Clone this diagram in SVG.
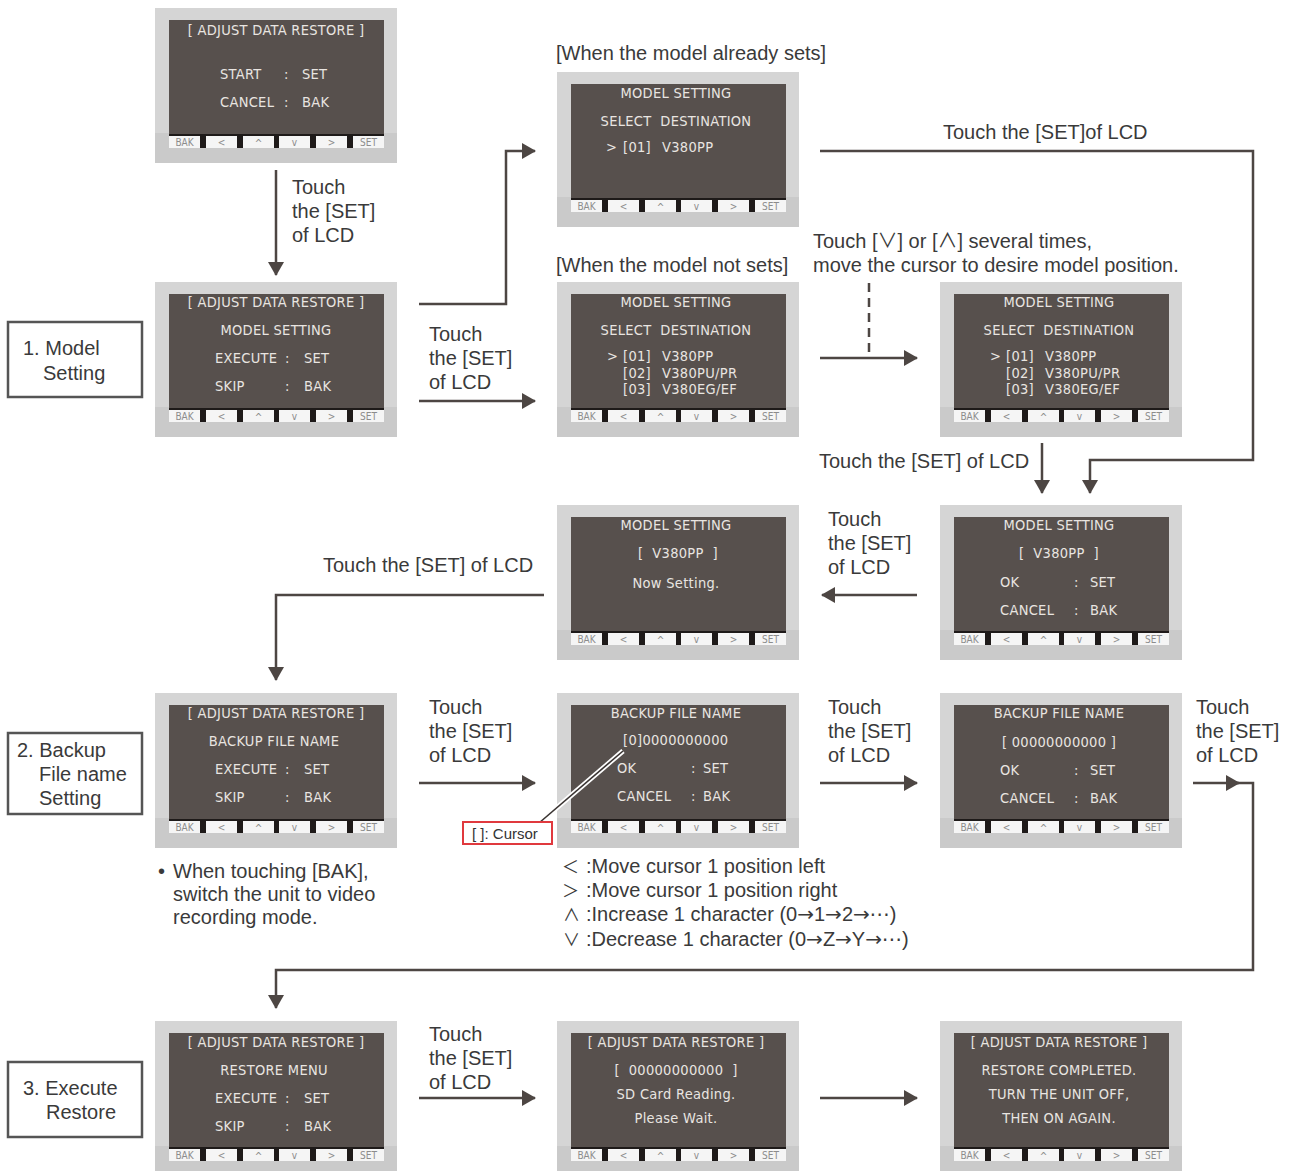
<svg xmlns="http://www.w3.org/2000/svg" width="1290" height="1171" viewBox="0 0 1290 1171">
<defs>
<style>
.frame{fill:#d5d5d5}
.lower{fill:#cacaca}
.scr{fill:#57504d}
.bar{fill:#1e1a19}
.btn{fill:#f5f5f5}
.bt{font-family:"DejaVu Sans Condensed","DejaVu Sans",sans-serif;font-size:10px;fill:#8c8c8c;text-anchor:middle}
.l{font-family:"DejaVu Sans Condensed","DejaVu Sans",sans-serif;font-size:14.5px;letter-spacing:0.3px;fill:#e9e5e1;white-space:pre}
.c{text-anchor:middle}
.t{font-family:"Liberation Sans",Arial,sans-serif;font-size:20px;fill:#3a3a3a}
.sym{font-family:"Noto Sans CJK JP","DejaVu Sans",sans-serif}
.arw{font-family:"DejaVu Sans",sans-serif}
.sm{font-size:17px}
.box{fill:#fff;stroke:#555;stroke-width:2.5}
.ar{fill:none;stroke:#4d4643;stroke-width:2.5}
</style>
<marker id="ah" viewBox="0 0 14 16" markerWidth="14" markerHeight="16" refX="13" refY="8" orient="auto" markerUnits="userSpaceOnUse">
<path d="M0,0 L14,8 L0,16 z" fill="#4d4643"/>
</marker>
<g id="lcd">
<rect class="frame" x="0" y="0" width="242" height="155"/>
<rect class="lower" x="0" y="125" width="242" height="30"/>
<rect class="scr" x="14" y="12" width="215" height="116"/>
<rect class="bar" x="14" y="126" width="215" height="14"/>
<rect class="btn" x="14" y="128" width="31" height="12"/>
<rect class="btn" x="51" y="128" width="31" height="12"/>
<rect class="btn" x="88" y="128" width="31" height="12"/>
<rect class="btn" x="124" y="128" width="31" height="12"/>
<rect class="btn" x="161" y="128" width="31" height="12"/>
<rect class="btn" x="198" y="128" width="31" height="12"/>
<text class="bt" x="29.5" y="138">BAK</text>
<text class="bt" x="66.5" y="138">&lt;</text>
<text class="bt" x="103.5" y="139">^</text>
<text class="bt" x="139.5" y="138">v</text>
<text class="bt" x="176.5" y="138">&gt;</text>
<text class="bt" x="213.5" y="138">SET</text>
</g>
</defs>
<rect x="0" y="0" width="1290" height="1171" fill="#fff"/>

<g id="label-1"><rect class="box" x="8" y="322" width="134" height="75"/><text class="t" x="23" y="355">1. Model</text><text class="t" x="43" y="380">Setting</text></g>
<g id="label-2"><rect class="box" x="8" y="733" width="134" height="81"/><text class="t" x="17" y="757">2. Backup</text><text class="t" x="39" y="781">File name</text><text class="t" x="39" y="805">Setting</text></g>
<g id="label-3"><rect class="box" x="8" y="1062" width="134" height="75"/><text class="t" x="23" y="1095">3. Execute</text><text class="t" x="46" y="1119">Restore</text></g>

<g id="lcd-a" transform="translate(155,8)"><use href="#lcd"/>
<text class="l c" x="121" y="27">[ ADJUST DATA RESTORE ]</text>
<text class="l" x="65" y="71">START</text><text class="l" x="129" y="71">:</text><text class="l" x="147" y="71">SET</text>
<text class="l" x="65" y="99">CANCEL</text><text class="l" x="129" y="99">:</text><text class="l" x="147" y="99">BAK</text></g>

<g id="lcd-b" transform="translate(155,282)"><use href="#lcd"/>
<text class="l c" x="121" y="25">[ ADJUST DATA RESTORE ]</text>
<text class="l c" x="121" y="53">MODEL SETTING</text>
<text class="l" x="60" y="81">EXECUTE</text><text class="l" x="130" y="81">:</text><text class="l" x="149" y="81">SET</text>
<text class="l" x="60" y="109">SKIP</text><text class="l" x="130" y="109">:</text><text class="l" x="149" y="109">BAK</text></g>

<g id="lcd-c" transform="translate(557,72)"><use href="#lcd"/>
<text class="l c" x="119" y="26">MODEL SETTING</text>
<text class="l c" x="119" y="54">SELECT  DESTINATION</text>
<text class="l" x="49" y="80">&gt;</text><text class="l" x="66" y="80">[01]</text><text class="l" x="105" y="80">V380PP</text></g>

<g id="lcd-d" transform="translate(557,282)"><use href="#lcd"/>
<text class="l c" x="119" y="25">MODEL SETTING</text>
<text class="l c" x="119" y="53">SELECT  DESTINATION</text>
<text class="l" x="50" y="79">&gt;</text><text class="l" x="66" y="79">[01]</text><text class="l" x="105" y="79">V380PP</text>
<text class="l" x="66" y="96">[02]</text><text class="l" x="105" y="96">V380PU/PR</text>
<text class="l" x="66" y="112">[03]</text><text class="l" x="105" y="112">V380EG/EF</text></g>

<g id="lcd-e" transform="translate(940,282)"><use href="#lcd"/>
<text class="l c" x="119" y="25">MODEL SETTING</text>
<text class="l c" x="119" y="53">SELECT  DESTINATION</text>
<text class="l" x="50" y="79">&gt;</text><text class="l" x="66" y="79">[01]</text><text class="l" x="105" y="79">V380PP</text>
<text class="l" x="66" y="96">[02]</text><text class="l" x="105" y="96">V380PU/PR</text>
<text class="l" x="66" y="112">[03]</text><text class="l" x="105" y="112">V380EG/EF</text></g>

<g id="lcd-f" transform="translate(557,505)"><use href="#lcd"/>
<text class="l c" x="119" y="25">MODEL SETTING</text>
<text class="l c" x="121" y="53">[  V380PP  ]</text>
<text class="l c" x="119" y="83">Now Setting.</text></g>

<g id="lcd-g" transform="translate(940,505)"><use href="#lcd"/>
<text class="l c" x="119" y="25">MODEL SETTING</text>
<text class="l c" x="119" y="53">[  V380PP  ]</text>
<text class="l" x="60" y="82">OK</text><text class="l" x="134" y="82">:</text><text class="l" x="150" y="82">SET</text>
<text class="l" x="60" y="110">CANCEL</text><text class="l" x="134" y="110">:</text><text class="l" x="150" y="110">BAK</text></g>

<g id="lcd-h" transform="translate(155,693)"><use href="#lcd"/>
<text class="l c" x="121" y="25">[ ADJUST DATA RESTORE ]</text>
<text class="l c" x="119" y="53">BACKUP FILE NAME</text>
<text class="l" x="60" y="81">EXECUTE</text><text class="l" x="130" y="81">:</text><text class="l" x="149" y="81">SET</text>
<text class="l" x="60" y="109">SKIP</text><text class="l" x="130" y="109">:</text><text class="l" x="149" y="109">BAK</text></g>

<g id="lcd-i" transform="translate(557,693)"><use href="#lcd"/>
<text class="l c" x="119" y="25">BACKUP FILE NAME</text>
<text class="l" x="66" y="52">[0]0000000000</text>
<text class="l" x="60" y="80">OK</text><text class="l" x="134" y="80">:</text><text class="l" x="146" y="80">SET</text>
<text class="l" x="60" y="108">CANCEL</text><text class="l" x="134" y="108">:</text><text class="l" x="146" y="108">BAK</text></g>

<g id="lcd-j" transform="translate(940,693)"><use href="#lcd"/>
<text class="l c" x="119" y="25">BACKUP FILE NAME</text>
<text class="l c" x="119" y="54">[ 00000000000 ]</text>
<text class="l" x="60" y="82">OK</text><text class="l" x="134" y="82">:</text><text class="l" x="150" y="82">SET</text>
<text class="l" x="60" y="110">CANCEL</text><text class="l" x="134" y="110">:</text><text class="l" x="150" y="110">BAK</text></g>

<g id="lcd-k" transform="translate(155,1021)"><use href="#lcd"/>
<text class="l c" x="121" y="26">[ ADJUST DATA RESTORE ]</text>
<text class="l c" x="119" y="54">RESTORE MENU</text>
<text class="l" x="60" y="82">EXECUTE</text><text class="l" x="130" y="82">:</text><text class="l" x="149" y="82">SET</text>
<text class="l" x="60" y="110">SKIP</text><text class="l" x="130" y="110">:</text><text class="l" x="149" y="110">BAK</text></g>

<g id="lcd-l" transform="translate(557,1021)"><use href="#lcd"/>
<text class="l c" x="119" y="26">[ ADJUST DATA RESTORE ]</text>
<text class="l c" x="119" y="54">[  00000000000  ]</text>
<text class="l c" x="119" y="78">SD Card Reading.</text>
<text class="l c" x="119" y="102">Please Wait.</text></g>

<g id="lcd-m" transform="translate(940,1021)"><use href="#lcd"/>
<text class="l c" x="119" y="26">[ ADJUST DATA RESTORE ]</text>
<text class="l c" x="119" y="54">RESTORE COMPLETED.</text>
<text class="l c" x="119" y="78">TURN THE UNIT OFF,</text>
<text class="l c" x="119" y="102">THEN ON AGAIN.</text></g>

<g id="connectors">
<path class="ar" d="M276,170 V275" marker-end="url(#ah)"/>
<path class="ar" d="M419,304 H506 V151 H535" marker-end="url(#ah)"/>
<path class="ar" d="M419,401 H535" marker-end="url(#ah)"/>
<path class="ar" d="M820,151 H1253 V460 H1090 V493" marker-end="url(#ah)"/>
<path class="ar" d="M820,358 H917" marker-end="url(#ah)"/>
<path class="ar" d="M869,283 V352" stroke-dasharray="9,6"/>
<path class="ar" d="M1042,443 V493" marker-end="url(#ah)"/>
<path class="ar" d="M917,595 H822" marker-end="url(#ah)"/>
<path class="ar" d="M544,595 H276 V680" marker-end="url(#ah)"/>
<path class="ar" d="M419,783 H535" marker-end="url(#ah)"/>
<path class="ar" d="M820,783 H917" marker-end="url(#ah)"/>
<path class="ar" d="M1193,783 H1239" marker-end="url(#ah)"/>
<path class="ar" d="M1236,783 H1253 V970 H276 V1008" marker-end="url(#ah)"/>
<path class="ar" d="M419,1098 H535" marker-end="url(#ah)"/>
<path class="ar" d="M820,1098 H917" marker-end="url(#ah)"/>
</g>

<g id="cursor-callout">
<path d="M623,751 L539,823" stroke="#fff" stroke-width="5" fill="none"/>
<path d="M623,751 L539,823" stroke="#3a3432" stroke-width="1.6" fill="none"/>
<rect x="463" y="822" width="89" height="22" fill="#fff" stroke="#e0393e" stroke-width="2"/>
<text x="472" y="839" style="font-family:'Liberation Sans',Arial,sans-serif;font-size:15px;fill:#333">[ ]: Cursor</text>
</g>

<g id="texts">
<text class="t" x="292" y="194">Touch</text><text class="t" x="292" y="218">the [SET]</text><text class="t" x="292" y="242">of LCD</text>
<text class="t" x="556" y="60">[When the model already sets]</text>
<text class="t" x="943" y="139">Touch the [SET]of LCD</text>
<text class="t" x="556" y="272">[When the model not sets]</text>
<text class="t" x="813" y="248">Touch [<tspan class="sym">∨</tspan>] or [<tspan class="sym">∧</tspan>] several times,</text>
<text class="t" x="813" y="272">move the cursor to desire model position.</text>
<text class="t" x="429" y="341">Touch</text><text class="t" x="429" y="365">the [SET]</text><text class="t" x="429" y="389">of LCD</text>
<text class="t" x="819" y="468">Touch the [SET] of LCD</text>
<text class="t" x="828" y="526">Touch</text><text class="t" x="828" y="550">the [SET]</text><text class="t" x="828" y="574">of LCD</text>
<text class="t" x="323" y="572">Touch the [SET] of LCD</text>
<text class="t" x="429" y="714">Touch</text><text class="t" x="429" y="738">the [SET]</text><text class="t" x="429" y="762">of LCD</text>
<text class="t" x="828" y="714">Touch</text><text class="t" x="828" y="738">the [SET]</text><text class="t" x="828" y="762">of LCD</text>
<text class="t" x="1196" y="714">Touch</text><text class="t" x="1196" y="738">the [SET]</text><text class="t" x="1196" y="762">of LCD</text>
<text class="t" x="158" y="878">•</text><text class="t" x="173" y="878">When touching [BAK],</text>
<text class="t" x="173" y="901">switch the unit to video</text>
<text class="t" x="173" y="924">recording mode.</text>
<text class="t sym sm" x="562" y="873">＜</text><text class="t" x="586" y="873">:Move cursor 1 position left</text>
<text class="t sym sm" x="562" y="897">＞</text><text class="t" x="586" y="897">:Move cursor 1 position right</text>
<text class="t sym sm" x="563" y="921">∧</text><text class="t" x="586" y="921">:Increase 1 character (0<tspan class="arw">→</tspan>1<tspan class="arw">→</tspan>2<tspan class="arw">→⋯</tspan>)</text>
<text class="t sym sm" x="563" y="946">∨</text><text class="t" x="586" y="946">:Decrease 1 character (0<tspan class="arw">→</tspan>Z<tspan class="arw">→</tspan>Y<tspan class="arw">→⋯</tspan>)</text>
<text class="t" x="429" y="1041">Touch</text><text class="t" x="429" y="1065">the [SET]</text><text class="t" x="429" y="1089">of LCD</text>
</g>
</svg>
